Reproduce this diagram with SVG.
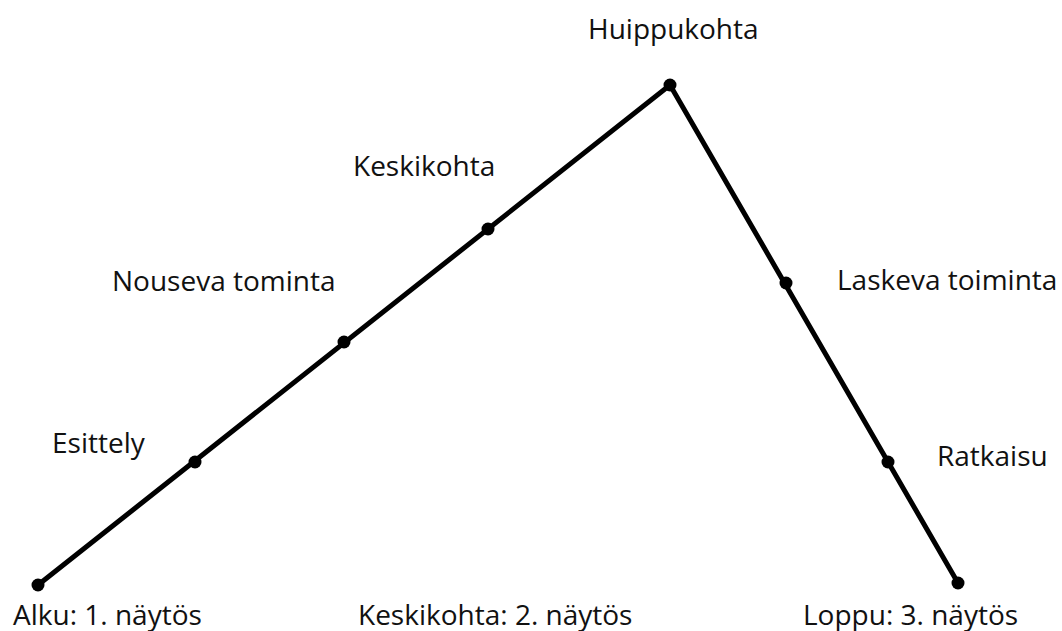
<svg xmlns="http://www.w3.org/2000/svg" width="1062" height="631" viewBox="0 0 1062 631">
<style>
text{font-family:"Open Sans","Liberation Sans",sans-serif;font-size:28px;fill:#111}
.ln{fill:none;stroke:#000;stroke-width:5;stroke-linejoin:miter}
.dot{fill:#000}
</style>
<rect width="1062" height="631" fill="#fff"/>
<g id="connectors">
<polyline class="ln" points="38,585 670,85 958,583"/>
</g>
<g id="n-alku"><circle class="dot" cx="38" cy="585" r="6.5"/><text x="13" y="625">Alku: 1. näytös</text></g>
<g id="n-esittely"><circle class="dot" cx="195" cy="462" r="6.5"/><text x="52" y="453">Esittely</text></g>
<g id="n-nouseva"><circle class="dot" cx="344" cy="342" r="6.5"/><text x="112" y="291">Nouseva tominta</text></g>
<g id="n-keskikohta"><circle class="dot" cx="488" cy="229" r="6.5"/><text x="353" y="176">Keskikohta</text></g>
<g id="n-huippu"><circle class="dot" cx="670" cy="85" r="6.5"/><text x="588" y="39">Huippukohta</text></g>
<g id="n-laskeva"><circle class="dot" cx="786" cy="283" r="6.5"/><text x="837" y="290">Laskeva toiminta</text></g>
<g id="n-ratkaisu"><circle class="dot" cx="888" cy="462" r="6.5"/><text x="937" y="466">Ratkaisu</text></g>
<g id="n-loppu"><circle class="dot" cx="958" cy="583" r="6.5"/><text x="803" y="625">Loppu: 3. näytös</text></g>
<g id="n-keski2"><text x="358" y="625">Keskikohta: 2. näytös</text></g>
</svg>
